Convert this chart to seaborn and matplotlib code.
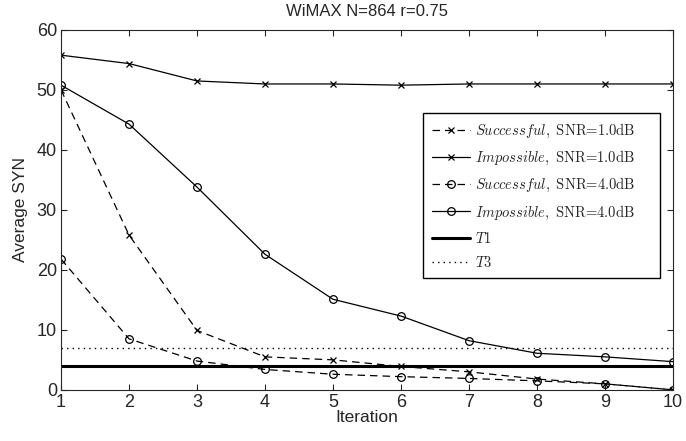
# WiMAX average SYN vs iteration

import pandas as pd
import numpy as np
import matplotlib
matplotlib.use("Agg")
import matplotlib.pyplot as plt
import seaborn as sns

# ------------------------------------------------------------
# Data
# ------------------------------------------------------------

iterations = [1, 2, 3, 4, 5, 6, 7, 8, 9, 10]

succ_1db = [50.0, 25.8, 9.9, 5.5, 5.0, 3.9, 3.0, 1.8, 1.0, 0.0]
imp_1db = [55.8, 54.4, 51.5, 51.0, 51.0, 50.8, 51.0, 51.0, 51.0, 51.0]
succ_4db = [21.8, 8.5, 4.8, 3.4, 2.6, 2.2, 1.9, 1.5, 1.0, 0.0]
imp_4db = [50.8, 44.3, 33.8, 22.6, 15.1, 12.3, 8.2, 6.1, 5.5, 4.7]

t1_level = 4.0
t3_level = 7.0

labels = [
    r"$\mathit{Successful},\ \text{SNR=1.0dB}$",
    r"$\mathit{Impossible},\ \text{SNR=1.0dB}$",
    r"$\mathit{Successful},\ \text{SNR=4.0dB}$",
    r"$\mathit{Impossible},\ \text{SNR=4.0dB}$",
    r"$\mathit{T1}$",
    r"$\mathit{T3}$",
]

# ------------------------------------------------------------
# Plot
# ------------------------------------------------------------

sns.set_style("ticks")
plt.rcParams["font.family"] = ["Liberation Sans", "DejaVu Sans"]
plt.rcParams["mathtext.fontset"] = "cm"

fig = plt.figure(figsize=(6.86, 4.41), dpi=100)
ax = fig.add_axes([0.089, 0.116, 0.892, 0.816])

series = [
    (succ_1db, (0, (6, 4)), "x"),
    (imp_1db, "-", "x"),
    (succ_4db, (0, (6, 4)), "o"),
    (imp_4db, "-", "o"),
]

for (vals, ls, mk), lab in zip(series, labels[:4]):
    sns.lineplot(x=iterations, y=vals, ax=ax, color="black", linestyle=ls,
                 linewidth=0.9, marker=mk, markersize=5.5 if mk == "o" else 4,
                 markerfacecolor="none", markeredgecolor="black",
                 markeredgewidth=0.9, label=lab)

sns.lineplot(x=iterations, y=[t1_level] * len(iterations), ax=ax,
             color="black", linewidth=2.2, label=labels[4])
sns.lineplot(x=iterations, y=[t3_level] * len(iterations), ax=ax,
             color="black", linewidth=1.0, linestyle=(0, (1, 3)),
             label=labels[5])

ax.set_xlim(1, 10)
ax.set_ylim(0, 60)
ax.set_xticks(range(1, 11))
ax.set_yticks(range(0, 61, 10))
ax.tick_params(direction="in", top=True, right=True, labelsize=13, length=4,
               pad=3)
for s in ax.spines.values():
    s.set_visible(True)
    s.set_linewidth(0.8)

ax.set_title("WiMAX N=864 r=0.75", fontsize=12, pad=10)
ax.set_xlabel("Iteration", fontsize=12.5, labelpad=-1)
ax.set_ylabel("Average SYN", fontsize=12.5, labelpad=6)

# legend box stretched to a fixed width like the MATLAB one
leg = ax.legend(loc="upper left", bbox_to_anchor=(0.5915, 0.306, 0.387, 0.463),
                mode="expand", borderaxespad=0, fontsize=10.5, frameon=True,
                fancybox=False, edgecolor="black", framealpha=1,
                handlelength=2.6, handletextpad=0.4, labelspacing=0.62,
                borderpad=0.6)
leg.get_frame().set_linewidth(1.0)

fig.savefig("out.png", dpi=100)
